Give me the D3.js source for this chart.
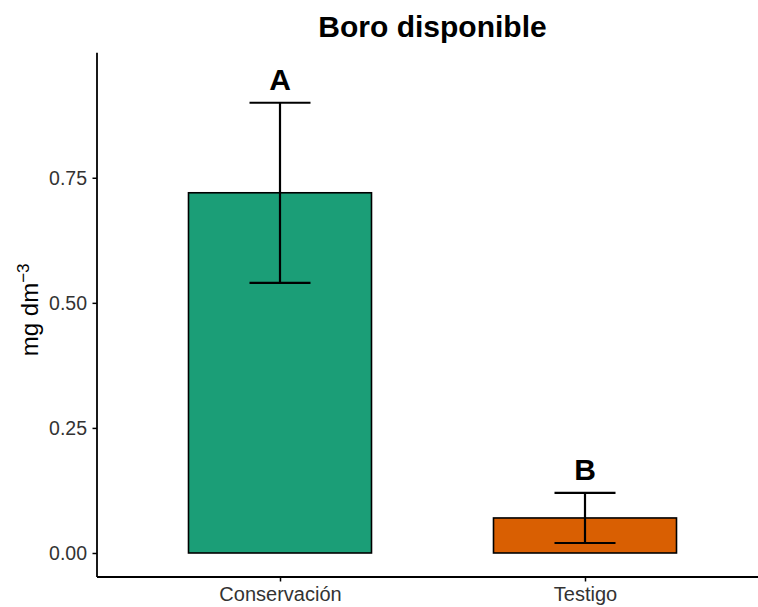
<!DOCTYPE html>
<html>
<head>
<meta charset="utf-8">
<script src="https://cdn.jsdelivr.net/npm/d3@7"></script>
<style>
  body { margin: 0; background: #fff; }
  svg { font-family: "Liberation Sans", Arial, Helvetica, sans-serif; }
</style>
</head>
<body>
<svg id="chart" width="758" height="607"></svg>
<script>
const categories = ["Conservación", "Testigo"];
const means = [0.72, 0.07];
const lowers = [0.54, 0.02];
const uppers = [0.90, 0.12];
const letters = ["A", "B"];
const colors = ["#1B9E77", "#D95F02"];
const yTicks = [0, 0.25, 0.5, 0.75];

const svg = d3.select("#chart");
const panel = { left: 97, right: 768, top: 52.7, bottom: 577 };

const x = d3.scaleLinear().domain([0.4, 2.6]).range([panel.left, panel.right]);
const y = d3.scaleLinear().domain([-0.048, 1.0]).range([panel.bottom, panel.top]);
const unit = x(2) - x(1);

const g = svg.append("g");

// bars
g.selectAll("rect.bar").data(categories).join("rect")
  .attr("class", "bar")
  .attr("x", (d, i) => x(i + 1) - 0.3 * unit)
  .attr("width", 0.6 * unit)
  .attr("y", (d, i) => y(means[i]))
  .attr("height", (d, i) => y(0) - y(means[i]))
  .attr("fill", (d, i) => colors[i])
  .attr("stroke", "#000")
  .attr("stroke-width", 1.6);

// error bars
categories.forEach((c, i) => {
  const cx = x(i + 1);
  const hw = 0.1 * unit;
  const eg = g.append("g").attr("stroke", "#000").attr("stroke-width", 2.2);
  eg.append("line").attr("x1", cx).attr("x2", cx).attr("y1", y(lowers[i])).attr("y2", y(uppers[i]));
  eg.append("line").attr("x1", cx - hw).attr("x2", cx + hw).attr("y1", y(uppers[i])).attr("y2", y(uppers[i]));
  eg.append("line").attr("x1", cx - hw).attr("x2", cx + hw).attr("y1", y(lowers[i])).attr("y2", y(lowers[i]));
  g.append("text")
    .attr("x", cx)
    .attr("y", y(uppers[i] + 0.025))
    .attr("text-anchor", "middle")
    .attr("font-size", 30)
    .attr("font-weight", "bold")
    .attr("fill", "#000")
    .text(letters[i]);
});

// y axis
const yAxis = d3.axisLeft(y).tickValues(yTicks).tickFormat(d3.format(".2f")).tickSize(4.5).tickPadding(5.5);
const ya = svg.append("g").attr("transform", `translate(${panel.left},0)`).call(yAxis);
ya.select(".domain").attr("d", `M0,${panel.top}V${panel.bottom}`).attr("stroke", "#000").attr("stroke-width", 1.8);
ya.selectAll(".tick line").attr("stroke", "#000").attr("stroke-width", 1.5);
ya.selectAll(".tick text").attr("font-size", 19.5).attr("fill", "#333").attr("font-family", "Liberation Sans, Arial, sans-serif");

// x axis
const xAxis = d3.axisBottom(x).tickValues([1, 2]).tickFormat((d) => categories[d - 1]).tickSize(4.5).tickPadding(5);
const xa = svg.append("g").attr("transform", `translate(0,${panel.bottom})`).call(xAxis);
xa.select(".domain").attr("d", `M${panel.left},0H${panel.right}`).attr("stroke", "#000").attr("stroke-width", 1.8);
xa.selectAll(".tick line").attr("stroke", "#000").attr("stroke-width", 1.5);
xa.selectAll(".tick text").attr("font-size", 20).attr("fill", "#333").attr("font-family", "Liberation Sans, Arial, sans-serif");

// y label
svg.append("text")
  .attr("transform", `translate(38,${(panel.top + panel.bottom) / 2 - 5}) rotate(-90)`)
  .attr("text-anchor", "middle")
  .attr("font-size", 24)
  .attr("fill", "#000")
  .html('mg dm<tspan dy="-9" font-size="17">−3</tspan>');

// title
svg.append("text")
  .attr("x", (panel.left + panel.right) / 2)
  .attr("y", 37)
  .attr("text-anchor", "middle")
  .attr("font-size", 30)
  .attr("font-weight", "bold")
  .attr("fill", "#000")
  .text("Boro disponible");
</script>
</body>
</html>
